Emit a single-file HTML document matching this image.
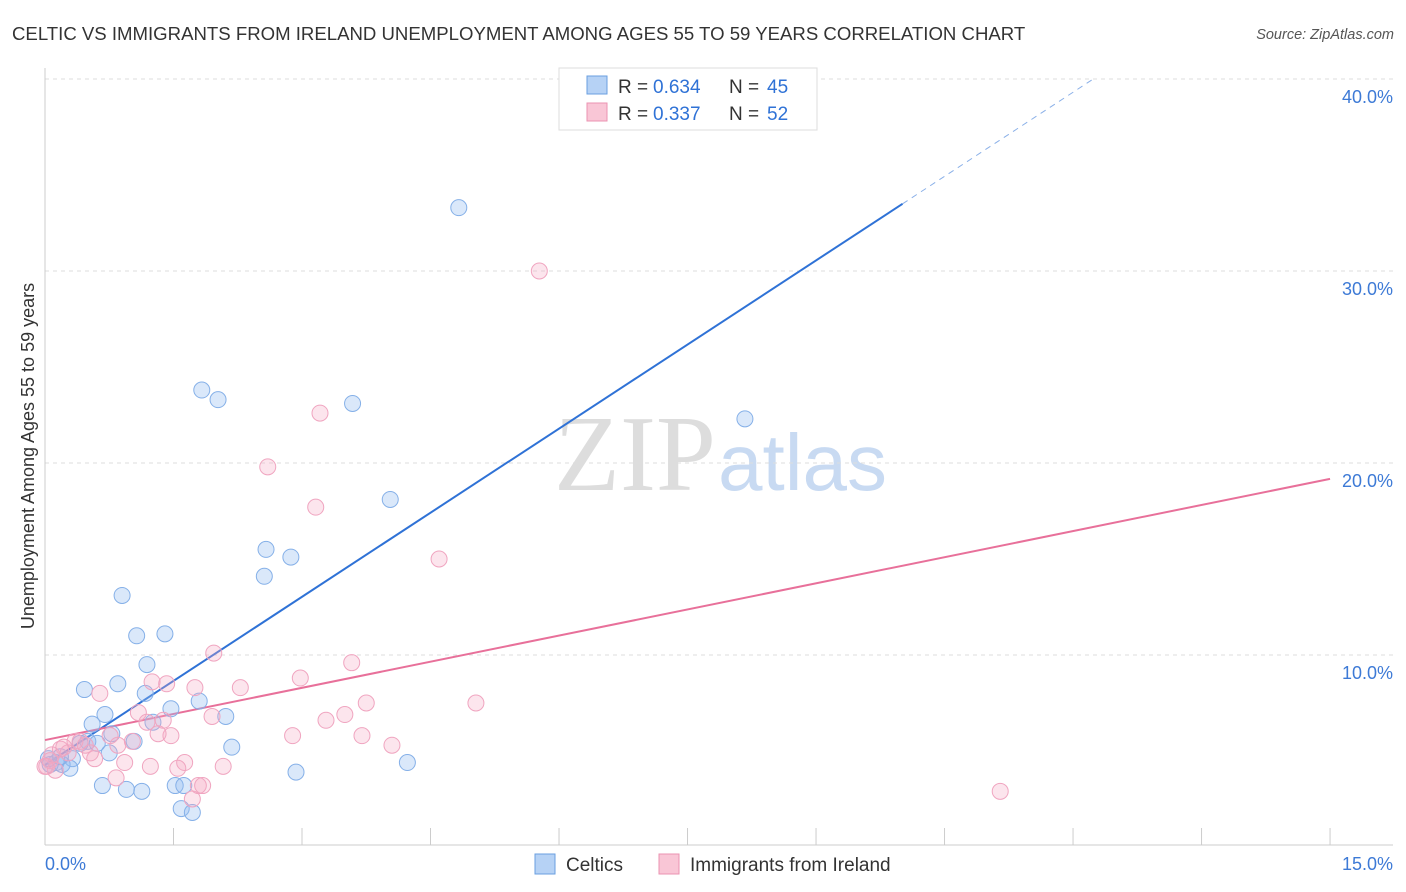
<!DOCTYPE html>
<html><head><meta charset="utf-8"><style>
body{margin:0;background:#fff;font-family:"Liberation Sans",sans-serif;}
svg{display:block}
</style></head><body>
<svg width="1406" height="892" viewBox="0 0 1406 892">
<text x="12" y="40" font-size="18.6" fill="#333">CELTIC VS IMMIGRANTS FROM IRELAND UNEMPLOYMENT AMONG AGES 55 TO 59 YEARS CORRELATION CHART</text>
<text x="1394" y="39" font-size="14.5" fill="#555" font-style="italic" text-anchor="end">Source: ZipAtlas.com</text>
<text x="716" y="490" font-size="108" font-family="Liberation Serif" fill="#ddd" text-anchor="end">ZIP</text>
<text x="718" y="490" font-size="80" fill="#c8daf2">atlas</text>
<g id="grid"></g>
<g id="axes"></g>
<g id="lines"></g>
<g id="pts"></g>
<text transform="translate(34,456) rotate(-90)" font-size="18" fill="#333" text-anchor="middle">Unemployment Among Ages 55 to 59 years</text>
<g>
<rect x="559" y="68" width="258" height="62" fill="#fff" stroke="#ddd"/>
<rect x="587" y="76" width="20" height="18" fill="#b6d2f5" stroke="#6a9fe0"/>
<rect x="587" y="103" width="20" height="18" fill="#f9c6d6" stroke="#eb93b2"/>
<text x="618" y="93" font-size="19" fill="#333">R =</text>
<text x="653" y="93" font-size="19" fill="#2f72d6">0.634</text>
<text x="729" y="93" font-size="19" fill="#333">N =</text>
<text x="767" y="93" font-size="19" fill="#2f72d6">45</text>
<text x="618" y="120" font-size="19" fill="#333">R =</text>
<text x="653" y="120" font-size="19" fill="#2f72d6">0.337</text>
<text x="729" y="120" font-size="19" fill="#333">N =</text>
<text x="767" y="120" font-size="19" fill="#2f72d6">52</text>
</g>
<g>
<rect x="535" y="854" width="20" height="20" fill="#b6d2f5" stroke="#6a9fe0"/>
<text x="566" y="871" font-size="19" fill="#333">Celtics</text>
<rect x="659" y="854" width="20" height="20" fill="#f9c6d6" stroke="#eb93b2"/>
<text x="690" y="871" font-size="19" fill="#333">Immigrants from Ireland</text>
</g>
<text x="45" y="870" font-size="18" fill="#3d7ad6">0.0%</text>
<text x="1393" y="870" font-size="18" fill="#3d7ad6" text-anchor="end">15.0%</text>
</svg>
<script>
const yTicks=[10,20,30,40];
const yTickLabels=["10.0%","20.0%","30.0%","40.0%"];
const xTicks=[0,1.5,3,4.5,6,7.5,9,10.5,12,13.5,15];
const celticsX=[4.83,1.83,2.02,3.59,8.17,4.03,2.58,2.87,2.56,0.9,1.4,1.07,1.19,0.46,0.85,1.17,1.47,1.80,2.11,0.70,0.55,1.26,0.78,1.04,0.50,0.61,0.41,2.18,0.75,0.32,0.13,0.06,0.20,0.29,4.23,2.93,0.67,0.95,1.13,1.52,1.62,1.59,1.72,0.18,0.04];
const celticsY=[33.3,23.8,23.3,23.1,22.3,18.1,15.5,15.1,14.1,13.1,11.1,11.0,9.5,8.2,8.5,8.0,7.2,7.6,6.8,6.9,6.4,6.5,5.9,5.5,5.5,5.4,5.4,5.2,4.9,4.6,4.4,4.3,4.3,4.1,4.4,3.9,3.2,3.0,2.9,3.2,3.2,2.0,1.8,4.7,4.6];
const irelandX=[5.77,3.21,2.60,3.16,4.60,1.97,3.58,2.98,2.28,1.42,1.25,1.75,0.64,5.03,3.75,3.50,3.28,1.95,1.38,1.09,1.19,1.47,1.32,1.02,0.85,2.89,3.70,4.05,0.76,0.47,0.35,0.18,0.27,0.08,0.02,0.06,0.58,0.93,1.23,1.63,1.55,2.08,0.83,1.79,1.84,1.72,11.15,0.22,0.41,0.53,0.12,0];
const irelandY=[30.0,22.6,19.8,17.7,15.0,10.1,9.6,8.8,8.3,8.5,8.6,8.3,8.0,7.5,7.5,6.9,6.6,6.8,6.6,7.0,6.5,5.8,5.9,5.5,5.3,5.8,5.8,5.3,5.8,5.3,5.5,5.1,4.9,4.8,4.2,4.5,4.6,4.4,4.2,4.4,4.1,4.2,3.6,3.2,3.2,2.5,2.9,5.2,5.5,4.9,4.0,4.2];
const blueFit=[4.27,2.92];
const pinkFit=[5.57,0.907];
const NS="http://www.w3.org/2000/svg";
const X=v=>45+v*85.67, Y=v=>847-v*19.2;
function mk(tag,attrs,parent){const e=document.createElementNS(NS,tag);for(const k in attrs)e.setAttribute(k,attrs[k]);document.getElementById(parent).appendChild(e);return e;}
yTicks.forEach((t,i)=>{
 const l=mk('line',{x1:45,x2:1393,y1:Y(t),y2:Y(t),stroke:'#ddd','stroke-dasharray':'4,4'},'grid');
 
 
 const tx=mk('text',{x:1393,y:Y(t)+24,'font-size':18,fill:'#3d7ad6','text-anchor':'end'},'grid');
 tx.textContent=yTickLabels[i];
 
 
});
const ax=mk('line',{x1:45,x2:45,y1:68,y2:845,stroke:'#ccc'},'axes');


const bx=mk('line',{x1:45,x2:1393,y1:845,y2:845,stroke:'#ccc'},'axes');


xTicks.forEach(t=>{
 const l=mk('line',{x1:X(t),x2:X(t),y1:828,y2:845,stroke:'#ccc'},'axes');
 
 
});
const bEnd=10.01;
const b1=mk('line',{x1:X(0),y1:Y(blueFit[0]),x2:X(bEnd),y2:Y(blueFit[0]+blueFit[1]*bEnd),stroke:'#2f72d6','stroke-width':2},'lines');


const xe=(40-blueFit[0])/blueFit[1];
const b2=mk('line',{x1:X(bEnd),y1:Y(blueFit[0]+blueFit[1]*bEnd),x2:X(xe),y2:Y(40),stroke:'#8ab0e8','stroke-width':1,'stroke-dasharray':'6,5'},'lines');


const p1=mk('line',{x1:X(0),y1:Y(pinkFit[0]),x2:X(15),y2:Y(pinkFit[0]+pinkFit[1]*15),stroke:'#e8709a','stroke-width':2},'lines');


celticsX.forEach((v,i)=>{
 const c=mk('circle',{cx:X(v),cy:Y(celticsY[i]),r:8,fill:'rgba(150,190,240,0.35)',stroke:'#85b0e8','stroke-width':1},'pts');
 
 
});
irelandX.forEach((v,i)=>{
 const c=mk('circle',{cx:X(v),cy:Y(irelandY[i]),r:8,fill:'rgba(245,170,195,0.3)',stroke:'#f0a5c0','stroke-width':1},'pts');
 
 
});
</script>
</body></html>
